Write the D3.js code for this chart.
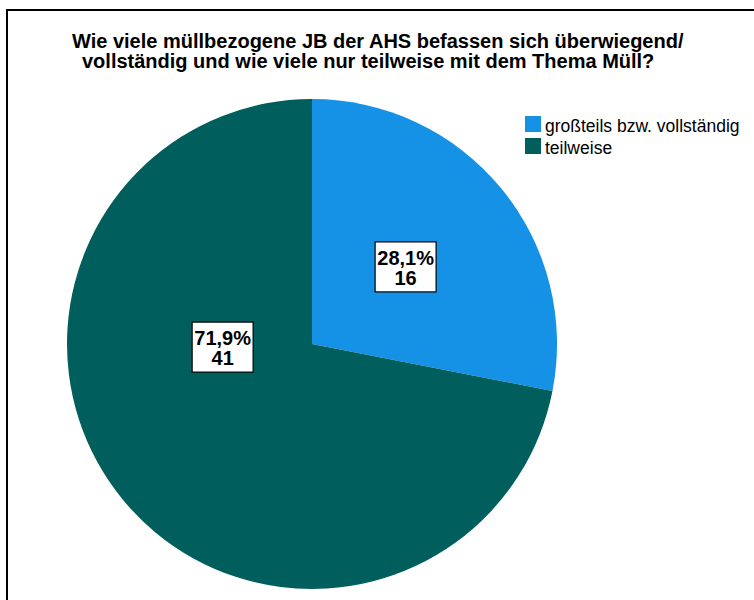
<!DOCTYPE html>
<html>
<head>
<meta charset="utf-8">
<script src="https://d3js.org/d3.v7.min.js"></script>
<style>
  body { margin: 0; background: #fff; }
  svg { font-family: "Liberation Sans", Arial, sans-serif; display: block; }
</style>
</head>
<body>
<script>
  // data
  var categories = ["großteils bzw. vollständig", "teilweise"];
  var counts = [16, 41];
  var percents = ["28,1%", "71,9%"];
  var colors = ["#1591e5", "#005e5c"];
  var titleLines = ["Wie viele müllbezogene JB der AHS befassen sich überwiegend/",
                    "vollständig und wie viele nur teilweise mit dem Thema Müll?"];

  var width = 754, height = 600;
  var cx = 312, cy = 344, radius = 245;

  var svg = d3.select("body").append("svg")
      .attr("width", width)
      .attr("height", height);

  // frame
  svg.append("rect")
      .attr("x", 7).attr("y", 10)
      .attr("width", 800).attr("height", 700)
      .attr("fill", "none")
      .attr("stroke", "#000")
      .attr("stroke-width", 2);

  // title
  svg.append("g").selectAll("text")
      .data(titleLines)
    .enter().append("text")
      .attr("x", function(d, i) { return i == 0 ? 72 : 82; })
      .attr("y", function(d, i) { return 48 + i * 20; })
      .attr("font-size", "20px")
      .attr("font-weight", "bold")
      .attr("fill", "#000")
      .text(function(d) { return d; });

  var pie = d3.pie().sort(null).value(function(d) { return d; });
  var arcs = pie(counts);
  var arc = d3.arc().innerRadius(0).outerRadius(radius);

  var g = svg.append("g")
      .attr("transform", "translate(" + cx + "," + cy + ")");

  g.selectAll("path")
      .data(arcs)
    .enter().append("path")
      .attr("d", arc)
      .attr("fill", function(d, i) { return colors[i]; });

  // label anchor points (small slice at its centroid, big one pulled left)
  function labelPos(d, i) {
    if (i == 0) {
      var a = (d.startAngle + d.endAngle) / 2;
      return [Math.sin(a) * radius * 0.495, -Math.cos(a) * radius * 0.495];
    }
    var a2 = 268 * Math.PI / 180;
    return [Math.sin(a2) * radius * 0.365, -Math.cos(a2) * radius * 0.365];
  }

  var lab = g.selectAll(".lab")
      .data(arcs)
    .enter().append("g")
      .attr("class", "lab")
      .attr("transform", function(d, i) {
        var p = labelPos(d, i);
        return "translate(" + p[0] + "," + p[1] + ")";
      });

  lab.append("rect")
      .attr("x", -30.5).attr("y", -25)
      .attr("width", 61).attr("height", 50)
      .attr("fill", "#fff")
      .attr("stroke", "#000")
      .attr("stroke-width", 1.2);

  lab.append("text")
      .attr("text-anchor", "middle")
      .attr("y", -2)
      .attr("font-size", "20px")
      .attr("font-weight", "bold")
      .text(function(d, i) { return percents[i]; });

  lab.append("text")
      .attr("text-anchor", "middle")
      .attr("y", 18)
      .attr("font-size", "20px")
      .attr("font-weight", "bold")
      .text(function(d, i) { return counts[i]; });

  // legend
  var legend = svg.append("g")
      .attr("transform", "translate(525,116)");

  var item = legend.selectAll("g")
      .data(categories)
    .enter().append("g")
      .attr("transform", function(d, i) { return "translate(0," + i * 22 + ")"; });

  item.append("rect")
      .attr("width", 16).attr("height", 16)
      .attr("fill", function(d, i) { return colors[i]; });

  item.append("text")
      .attr("x", 20)
      .attr("y", 16)
      .attr("font-size", "17.5px")
      .attr("fill", "#000")
      .text(function(d) { return d; });
</script>
</body>
</html>
